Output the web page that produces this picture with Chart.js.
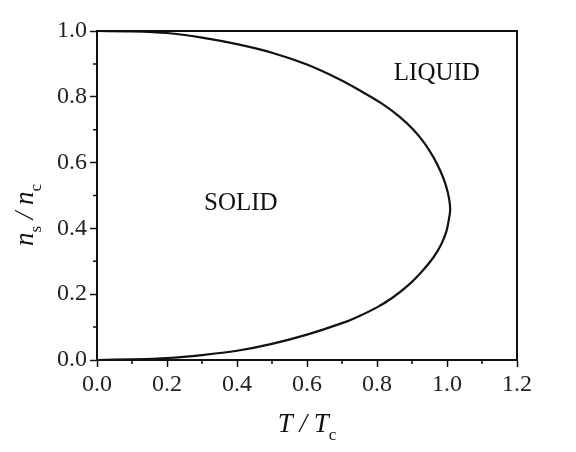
<!DOCTYPE html>
<html>
<head>
<meta charset="utf-8">
<script src="https://cdn.jsdelivr.net/npm/chart.js@4"></script>
<style>
  html, body { margin: 0; padding: 0; background: #fff; }
  #wrap { width: 576px; height: 452px; }
</style>
</head>
<body>
<div id="wrap"><canvas id="phase"></canvas></div>
<script>
// lower branch of the phase boundary, from (0,0) up towards the tip
const lowerT = [0, 0.1, 0.2, 0.3, 0.4, 0.5, 0.6, 0.7, 0.75, 0.8, 0.845, 0.892, 0.929];
const lowerN = [0, 0.002, 0.006, 0.015, 0.028, 0.049, 0.077, 0.112, 0.134, 0.160, 0.19, 0.23, 0.27];
// round the tip at T/Tc ~ 1
const tipT = [0.960, 0.983, 0.998, 1.005, 1.009, 1.006, 0.997, 0.983, 0.962];
const tipN = [0.31, 0.35, 0.39, 0.425, 0.456, 0.49, 0.53, 0.57, 0.615];
// upper branch, back to (0,1)
const upperT = [0.935, 0.904, 0.864, 0.813, 0.750, 0.695, 0.6, 0.5, 0.4, 0.3, 0.2, 0.1, 0];
const upperN = [0.66, 0.70, 0.74, 0.78, 0.82, 0.852, 0.898, 0.934, 0.960, 0.980, 0.994, 0.999, 1.0];

const xTicks = [0, 0.2, 0.4, 0.6, 0.8, 1.0, 1.2];
const yTicks = [0, 0.2, 0.4, 0.6, 0.8, 1.0];

const regionLabels = [
  { text: 'SOLID', x: 0.411, y: 0.476 },
  { text: 'LIQUID', x: 0.971, y: 0.871 }
];

const serif = '"Liberation Serif", "Times New Roman", serif';
const ink = '#111';

const toPoints = (ts, ns) => ts.map((t, i) => ({ x: t, y: ns[i] }));
const boundary = [
  ...toPoints(lowerT, lowerN),
  ...toPoints(tipT, tipN),
  ...toPoints(upperT, upperN)
];

// frame, minor ticks, region names and the subscripted axis titles
const decorations = {
  id: 'decorations',
  afterDraw(chart) {
    const c = chart.ctx;
    const a = chart.chartArea;
    const xs = chart.scales.x, ys = chart.scales.y;
    c.save();
    c.strokeStyle = ink;
    c.lineWidth = 2;
    c.beginPath();
    c.moveTo(a.left, a.top);
    c.lineTo(a.right, a.top);
    c.lineTo(a.right, a.bottom);
    c.stroke();

    // minor ticks half way between the labelled ones
    c.lineWidth = 1.5;
    c.beginPath();
    for (let i = 0; i < xTicks.length - 1; i++) {
      const px = xs.getPixelForValue((xTicks[i] + xTicks[i + 1]) / 2);
      c.moveTo(px, a.bottom);
      c.lineTo(px, a.bottom + 4);
    }
    for (let i = 0; i < yTicks.length - 1; i++) {
      const py = ys.getPixelForValue((yTicks[i] + yTicks[i + 1]) / 2);
      c.moveTo(a.left, py);
      c.lineTo(a.left - 4, py);
    }
    c.stroke();

    c.fillStyle = ink;
    c.font = '25px ' + serif;
    c.textAlign = 'center';
    c.textBaseline = 'middle';
    regionLabels.forEach(l => {
      c.fillText(l.text, xs.getPixelForValue(l.x), ys.getPixelForValue(l.y));
    });

    // writes runs of [text, italic, subscript] starting at x
    const fontOf = (it, sub) => (it ? 'italic ' : '') + (sub ? '17px ' : '27px ') + serif;
    const runs = (parts, x, y) => {
      c.textAlign = 'left';
      c.textBaseline = 'alphabetic';
      parts.forEach(([s, it, sub]) => {
        c.font = fontOf(it, sub);
        c.fillText(s, x, sub ? y + 8 : y);
        x += c.measureText(s).width;
      });
    };
    const width = parts => parts.reduce((w, [s, it, sub]) => {
      c.font = fontOf(it, sub);
      return w + c.measureText(s).width;
    }, 0);

    const xTitle = [['T / T', true, false], ['c', false, true]];
    const cx = (a.left + a.right) / 2;
    runs(xTitle, cx - width(xTitle) / 2, 432);

    const yTitle = [['n', true, false], ['s', false, true], [' / n', true, false], ['c', false, true]];
    c.translate(33, 215);
    c.rotate(-Math.PI / 2);
    runs(yTitle, -width(yTitle) / 2, 0);
    c.restore();
  }
};

const tickFont = { family: serif, size: 24 };

new Chart(document.getElementById('phase'), {
  type: 'scatter',
  data: {
    datasets: [{
      data: boundary,
      showLine: true,
      borderColor: ink,
      borderWidth: 2.2,
      pointRadius: 0,
      tension: 0.3,
      fill: false
    }]
  },
  options: {
    responsive: true,
    maintainAspectRatio: false,
    animation: false,
    layout: { padding: { left: 0, top: 31, right: 59, bottom: 0 } },
    plugins: {
      legend: { display: false },
      tooltip: { enabled: false }
    },
    scales: {
      x: {
        type: 'linear',
        min: 0,
        max: 1.2,
        afterFit(scale) { scale.height = 92; },
        afterBuildTicks(scale) { scale.ticks = xTicks.map(v => ({ value: v })); },
        border: { display: true, color: ink, width: 2 },
        grid: { display: true, drawOnChartArea: false, tickLength: 7, tickColor: ink, tickWidth: 1.5 },
        ticks: {
          font: tickFont,
          color: '#222',
          padding: 3,
          maxRotation: 0,
          callback: v => v.toFixed(1)
        }
      },
      y: {
        type: 'linear',
        min: 0,
        max: 1.0,
        afterFit(scale) { scale.width = 97; },
        afterBuildTicks(scale) { scale.ticks = yTicks.map(v => ({ value: v })); },
        border: { display: true, color: ink, width: 2 },
        grid: { display: true, drawOnChartArea: false, tickLength: 7, tickColor: ink, tickWidth: 1.5 },
        ticks: {
          font: tickFont,
          color: '#222',
          padding: 3,
          callback: v => v.toFixed(1)
        }
      }
    }
  },
  plugins: [decorations]
});
</script>
</body>
</html>
